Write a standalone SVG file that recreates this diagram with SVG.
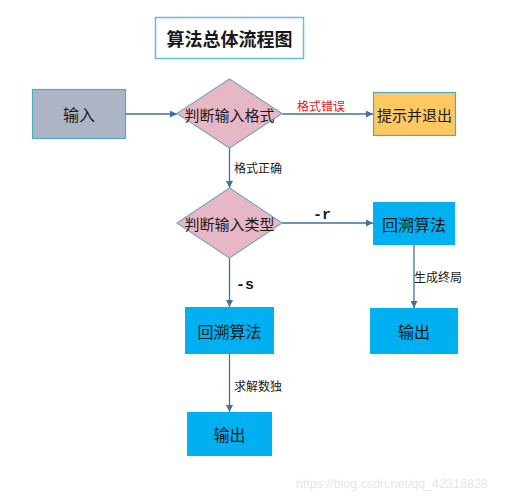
<svg xmlns="http://www.w3.org/2000/svg" width="505" height="500" viewBox="0 0 505 500">
<style>
text{font-family:"Noto Sans CJK SC","Liberation Sans",sans-serif;fill:#1a1a1a}
.c{text-anchor:middle;dominant-baseline:central}
.n{font-size:15px}
.lbl{font-size:12px}
.mono{font-family:"Liberation Mono","DejaVu Sans Mono",monospace;font-weight:bold;font-size:15px}
.blue{fill:#00b0f0}
.edge{stroke:#41719c;stroke-width:1.3;fill:none;marker-end:url(#a)}
</style>
<defs>
<marker id="a" viewBox="0 0 10 10" refX="10" refY="5" markerWidth="7" markerHeight="7" markerUnits="userSpaceOnUse" orient="auto">
<path d="M0,0 L10,5 L0,10 Z" fill="#41719c"/>
</marker>
</defs>
<rect width="505" height="500" fill="#fff"/>
<g id="title">
<rect x="155.5" y="17.5" width="148" height="41" fill="#fff" stroke="#5bc0e8" stroke-width="1.5"/>
<text x="229.5" y="38" class="c" font-size="18" font-weight="bold">算法总体流程图</text>
</g>
<g id="edges">
<path class="edge" d="M126,114 H177"/>
<path class="edge" d="M282,114 H373"/>
<path class="edge" d="M229.5,148 V188"/>
<path class="edge" d="M282,223 H373"/>
<path class="edge" d="M229.5,258 V307"/>
<path class="edge" d="M414,245 V308"/>
<path class="edge" d="M229.5,354 V412"/>
<text x="297" y="105" class="lbl" dominant-baseline="central" fill="#e8141c" style="fill:#e8141c">格式错误</text>
<text x="234" y="167" class="lbl" dominant-baseline="central">格式正确</text>
<text x="313" y="215" class="mono" dominant-baseline="central">-r</text>
<text x="236" y="285" class="mono" dominant-baseline="central">-s</text>
<text x="414" y="276" class="lbl" dominant-baseline="central">生成终局</text>
<text x="234" y="385" class="lbl" dominant-baseline="central">求解数独</text>
</g>
<g id="input">
<rect x="32.5" y="89.5" width="93" height="49" fill="#adb5c4" stroke="#4bacc6" stroke-width="1.2"/>
<text x="79" y="114" class="c" font-size="16">输入</text>
</g>
<g id="check-format">
<path d="M229.5,79 L282,113.5 L229.5,148 L177,113.5 Z" fill="#e8b7c6" stroke="#7ea6c8" stroke-width="1.2"/>
<text x="229.5" y="114" class="c n">判断输入格式</text>
</g>
<g id="exit">
<rect x="373.5" y="92.5" width="82" height="43" fill="#fcc862" stroke="#4bacc6" stroke-width="1.2"/>
<text x="414.5" y="114" class="c n">提示并退出</text>
</g>
<g id="check-type">
<path d="M229.5,188 L282,223 L229.5,258 L177,223 Z" fill="#e8b7c6" stroke="#7ea6c8" stroke-width="1.2"/>
<text x="229.5" y="223" class="c n">判断输入类型</text>
</g>
<g id="backtrack-r">
<rect x="373" y="202" width="82" height="43" class="blue"/>
<text x="414" y="223.5" class="c" font-size="16">回溯算法</text>
</g>
<g id="output-r">
<rect x="370" y="308" width="88" height="46" class="blue"/>
<text x="414" y="331" class="c" font-size="16">输出</text>
</g>
<g id="backtrack-s">
<rect x="185" y="307" width="89" height="47" class="blue"/>
<text x="229.5" y="330.5" class="c" font-size="16">回溯算法</text>
</g>
<g id="output-s">
<rect x="187" y="412" width="85" height="44" class="blue"/>
<text x="229.5" y="434" class="c" font-size="16">输出</text>
</g>
<text x="296" y="488" font-size="12.5" style="fill:#e6e6e6;font-family:'Liberation Sans',sans-serif">https://blog.csdn.net/qq_42318828</text>
</svg>
